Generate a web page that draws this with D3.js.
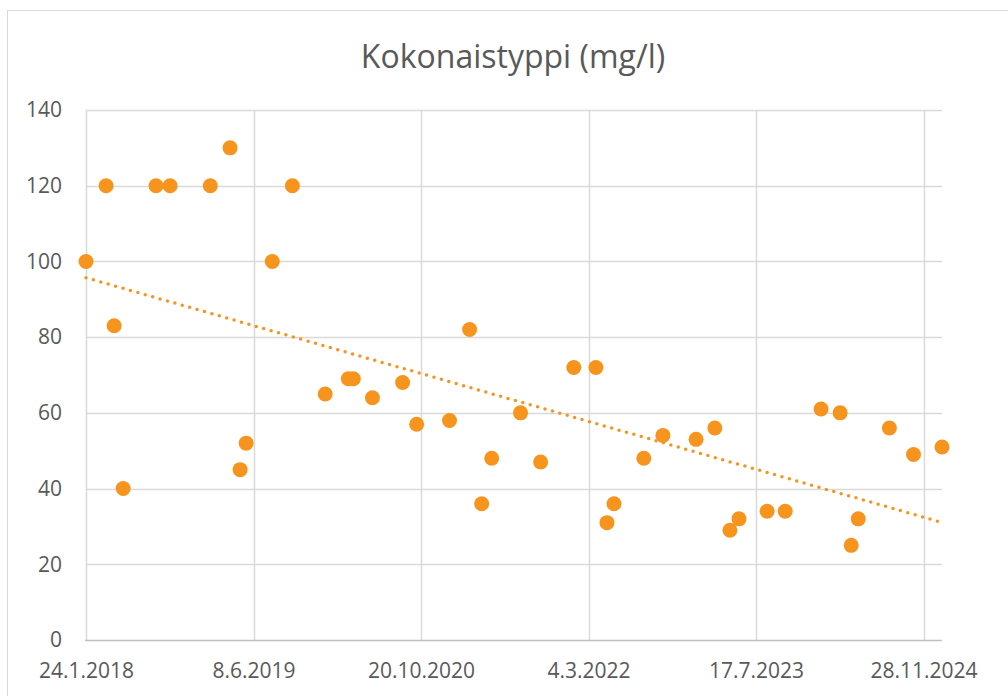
<!DOCTYPE html>
<html>
<head>
<meta charset="utf-8">
<script src="https://cdn.jsdelivr.net/npm/d3@7"></script>
<style>
  html, body { margin: 0; padding: 0; background: #fff; }
  svg { display: block; font-family: "Open Sans", "Noto Sans", sans-serif; }
</style>
</head>
<body>
<svg id="chart" width="1008" height="696"></svg>
<script>
var dates = [
  "24.1.2018", "25.3.2018", "18.4.2018", "15.5.2018", "21.8.2018", "2.10.2018",
  "30.1.2019", "30.3.2019", "29.4.2019", "17.5.2019", "3.8.2019", "2.10.2019",
  "8.1.2020", "17.3.2020", "1.4.2020", "28.5.2020", "26.8.2020", "7.10.2020",
  "13.1.2021", "14.3.2021", "19.4.2021", "19.5.2021", "13.8.2021", "12.10.2021",
  "19.1.2022", "26.3.2022", "28.4.2022", "19.5.2022", "16.8.2022", "12.10.2022",
  "19.1.2023", "16.3.2023", "30.4.2023", "27.5.2023", "19.8.2023", "12.10.2023",
  "27.1.2024", "24.3.2024", "26.4.2024", "17.5.2024", "18.8.2024", "29.10.2024",
  "22.1.2025"
];
var values = [
  100, 120, 83, 40, 120, 120,
  120, 130, 45, 52, 100, 120,
  65, 69, 69, 64, 68, 57,
  58, 82, 36, 48, 60, 47,
  72, 72, 31, 36, 48, 54,
  53, 56, 29, 32, 34, 34,
  61, 60, 25, 32, 56, 49,
  51
];
var xTickLabels = ["24.1.2018", "8.6.2019", "20.10.2020", "4.3.2022", "17.7.2023", "28.11.2024"];
var yTicks = [0, 20, 40, 60, 80, 100, 120, 140];

var parse = d3.timeParse("%d.%m.%Y");
var fmt = function(d) { return d.getDate() + "." + (d.getMonth() + 1) + "." + d.getFullYear(); };

var data = dates.map(function(d, i) { return {date: parse(d), value: values[i]}; });

var svg = d3.select("#chart");
var margin = {top: 110, right: 66, bottom: 56, left: 86};
var width = 1008 - margin.left - margin.right,
    height = 696 - margin.top - margin.bottom;

var x = d3.scaleTime()
  .domain([data[0].date, data[data.length - 1].date])
  .range([0, width]);
var y = d3.scaleLinear().domain([0, 140]).range([height, 0]);

// outer chart border
svg.append("rect")
  .attr("x", 7.5).attr("y", 10.5)
  .attr("width", 1020).attr("height", 700)
  .attr("fill", "none").attr("stroke", "#d9d9d9").attr("stroke-width", 1);

svg.append("text")
  .attr("x", 513).attr("y", 68)
  .attr("text-anchor", "middle")
  .attr("font-size", 32)
  .attr("fill", "#595959")
  .text("Kokonaistyppi (mg/l)");

var g = svg.append("g").attr("transform", "translate(" + margin.left + "," + margin.top + ")");

// gridlines
g.selectAll(".hgrid").data(yTicks.slice(1)).enter().append("line")
  .attr("x1", 0).attr("x2", width)
  .attr("y1", function(d) { return Math.round(y(d)) + 0.5; })
  .attr("y2", function(d) { return Math.round(y(d)) + 0.5; })
  .attr("stroke", "#d9d9d9").attr("stroke-width", 1.5);

var xTicks = xTickLabels.map(parse);
g.selectAll(".vgrid").data(xTicks).enter().append("line")
  .attr("x1", function(d) { return Math.round(x(d)) + 0.5; })
  .attr("x2", function(d) { return Math.round(x(d)) + 0.5; })
  .attr("y1", 0).attr("y2", height)
  .attr("stroke", "#d9d9d9").attr("stroke-width", 1.5);

// axis line
g.append("line").attr("x1", -1).attr("x2", width).attr("y1", height + 0.5).attr("y2", height + 0.5)
  .attr("stroke", "#bfbfbf").attr("stroke-width", 1.5);

// axes via d3, domain path hidden
var yAxis = g.append("g")
  .call(d3.axisLeft(y).tickValues(yTicks).tickSize(0).tickPadding(24));
var xAxis = g.append("g").attr("transform", "translate(0," + height + ")")
  .call(d3.axisBottom(x).tickValues(xTicks).tickFormat(fmt).tickSize(0).tickPadding(23));
[yAxis, xAxis].forEach(function(a) {
  a.select(".domain").remove();
  a.selectAll("text").attr("font-size", 21).attr("fill", "#595959")
    .attr("font-family", "'Open Sans', 'Noto Sans', sans-serif");
});

// linear trend (least squares)
var xs = data.map(function(d) { return +d.date; }),
    mx = d3.mean(xs), my = d3.mean(values);
var sxy = d3.sum(data, function(d) { return (+d.date - mx) * (d.value - my); }),
    sxx = d3.sum(xs, function(v) { return (v - mx) * (v - mx); });
var slope = sxy / sxx, icpt = my - slope * mx;
var ends = x.domain();
g.append("line")
  .attr("x1", x(ends[0])).attr("y1", y(icpt + slope * +ends[0]))
  .attr("x2", x(ends[1])).attr("y2", y(icpt + slope * +ends[1]))
  .attr("stroke", "#f7941d").attr("stroke-width", 3.5)
  .attr("stroke-linecap", "round").attr("stroke-dasharray", "0,7.7");

// points
g.selectAll(".pt").data(data).enter().append("circle")
  .attr("cx", function(d) { return x(d.date); })
  .attr("cy", function(d) { return y(d.value); })
  .attr("r", 7.5)
  .attr("fill", "#f7941d");
</script>
</body>
</html>
